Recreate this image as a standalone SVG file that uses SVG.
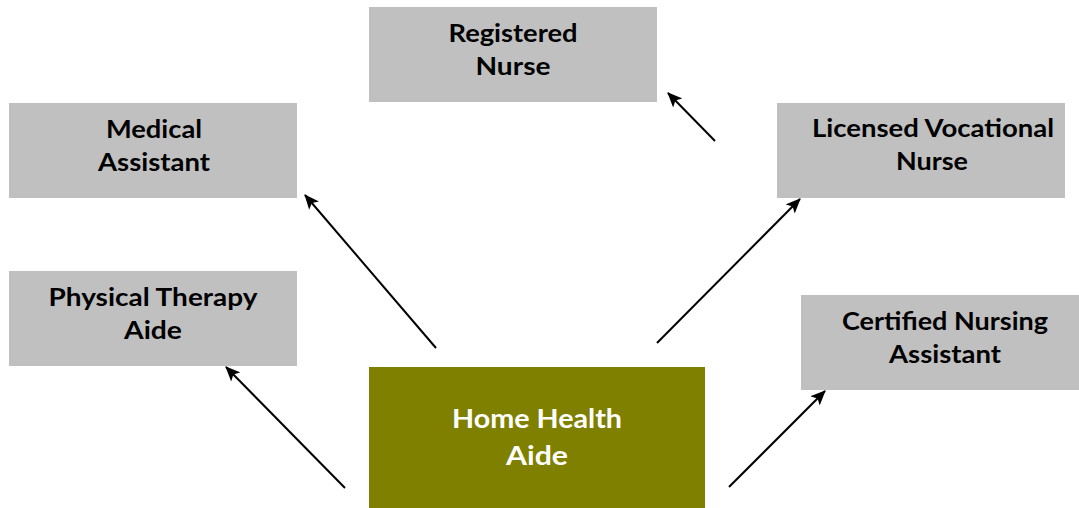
<svg xmlns="http://www.w3.org/2000/svg" width="1079" height="508" viewBox="0 0 1079 508">
<defs>
<marker id="ah" markerWidth="15" markerHeight="13" refX="14" refY="6.5" orient="auto" markerUnits="userSpaceOnUse" viewBox="0 0 15 13">
<path d="M0,0 L15,6.5 L0,13 L3.5,6.5 Z" fill="#000"/>
</marker>
<style>
.box{fill:#c0c0c0}
.t{font-family:Lato,"Liberation Sans",sans-serif;font-weight:bold;font-size:24px;fill:#000;text-anchor:middle}
.tw{font-family:Lato,"Liberation Sans",sans-serif;font-weight:bold;font-size:27px;fill:#fff;text-anchor:middle}
.c{stroke:#000;stroke-width:2;fill:none;marker-end:url(#ah)}
</style>
</defs>
<rect width="1079" height="508" fill="#fff"/>
<g id="rn"><rect class="box" x="369" y="7" width="288" height="95"/><text class="t" x="513" y="42" textLength="129" lengthAdjust="spacingAndGlyphs">Registered</text><text class="t" x="513" y="75" textLength="75" lengthAdjust="spacingAndGlyphs">Nurse</text></g>
<g id="ma"><rect class="box" x="9" y="103" width="288" height="95"/><text class="t" x="154" y="138" textLength="96" lengthAdjust="spacingAndGlyphs">Medical</text><text class="t" x="154" y="171" textLength="112" lengthAdjust="spacingAndGlyphs">Assistant</text></g>
<g id="lvn"><rect class="box" x="777" y="103" width="288" height="95"/><text class="t" x="933" y="137" textLength="242" lengthAdjust="spacingAndGlyphs">Licensed Vocational</text><text class="t" x="932" y="170" textLength="72" lengthAdjust="spacingAndGlyphs">Nurse</text></g>
<g id="pta"><rect class="box" x="9" y="271" width="288" height="95"/><text class="t" x="153" y="306" textLength="209" lengthAdjust="spacingAndGlyphs">Physical Therapy</text><text class="t" x="153" y="339" textLength="58" lengthAdjust="spacingAndGlyphs">Aide</text></g>
<g id="cna"><rect class="box" x="801" y="295" width="288" height="95"/><text class="t" x="945" y="330" textLength="206" lengthAdjust="spacingAndGlyphs">Certified Nursing</text><text class="t" x="945" y="363" textLength="112" lengthAdjust="spacingAndGlyphs">Assistant</text></g>
<g id="hha"><rect x="369" y="367" width="336" height="141" fill="#808000"/><text class="tw" x="537" y="428" textLength="170" lengthAdjust="spacingAndGlyphs">Home Health</text><text class="tw" x="537" y="465" textLength="62" lengthAdjust="spacingAndGlyphs">Aide</text></g>
<g id="connectors">
<line class="c" x1="715" y1="141" x2="668" y2="93"/>
<line class="c" x1="657" y1="343" x2="800" y2="199"/>
<line class="c" x1="436" y1="348" x2="305" y2="195"/>
<line class="c" x1="345" y1="488" x2="226" y2="367"/>
<line class="c" x1="729" y1="487" x2="825" y2="391"/>
</g>
</svg>
